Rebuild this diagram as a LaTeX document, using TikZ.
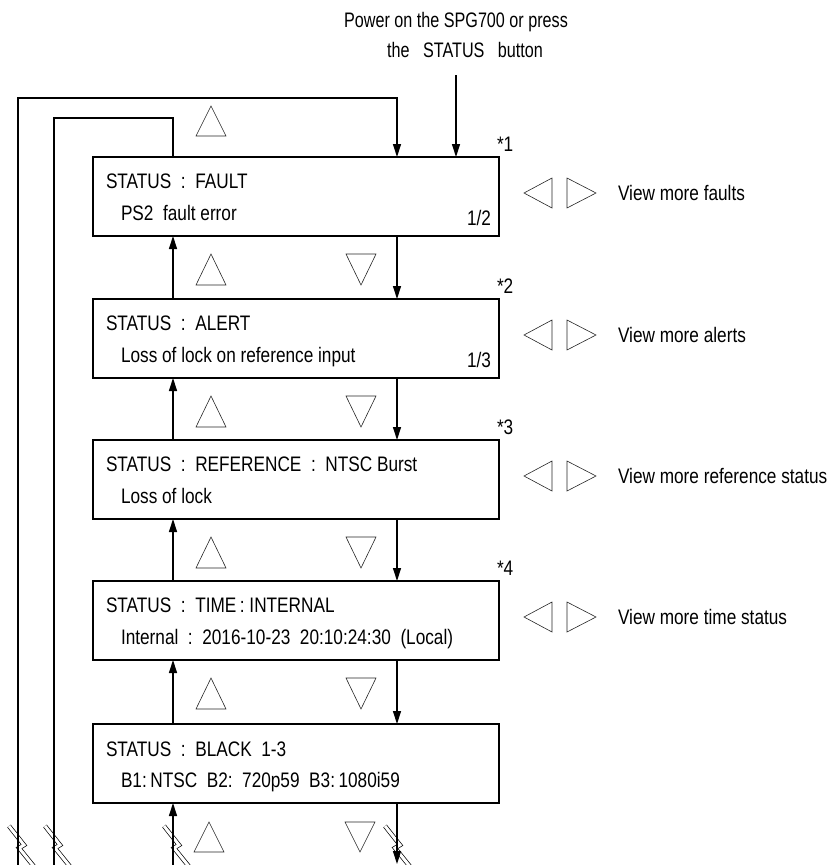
\documentclass[tikz,border=0pt]{standalone}
\usepackage{fontspec}
\setmainfont{Liberation Sans}[FakeStretch=0.82]
\newfontfamily\pwfont{Liberation Sans}[FakeStretch=0.77]
\usetikzlibrary{arrows.meta}
\begin{document}
\begin{tikzpicture}[x=1pt,y=-1pt,
  every node/.style={font=\fontsize{21}{25}\selectfont, inner sep=0pt, outer sep=0pt},
  box/.style={draw, line width=2.3pt, anchor=north west, minimum width=406pt, minimum height=79pt},
  txt/.style={anchor=base west},
  conn/.style={line width=1.3pt},
  arr/.style={conn, -{Triangle[length=13pt,width=8pt]}},
  tri/.style={draw=black!85, line width=0.6pt},
  brk/.style={draw=black, line width=0.7pt, double=white, double distance=3pt}]
\useasboundingbox (0,0) rectangle (830,865);

% boxes
\node[box] (b1) at (93,157) {};
\node[box] (b2) at (93,299) {};
\node[box] (b3) at (93,440) {};
\node[box] (b4) at (93,581) {};
\node[box] (b5) at (93,724) {};

% box texts
\node[txt] (t1a) at (106,188) {STATUS~~:~~FAULT};
\node[txt] (t1b) at (121,220) {PS2~~fault error};
\node[anchor=base east] (t1c) at (491,225) {1/2};
\node[txt] (t2a) at (106,330) {STATUS~~:~~ALERT};
\node[txt] (t2b) at (121,362) {Loss of lock on reference input};
\node[anchor=base east] (t2c) at (491,367) {1/3};
\node[txt] (t3a) at (106,471) {STATUS~~:~~REFERENCE~~:~~NTSC Burst};
\node[txt] (t3b) at (121,503) {Loss of lock};
\node[txt] (t4a) at (106,612) {STATUS~~:~~TIME\,:~INTERNAL};
\node[txt] (t4b) at (121,644) {Internal~~:~~2016-10-23~~20:10:24:30~~(Local)};
\node[txt] (t5a) at (106,756) {STATUS~~:~~BLACK~~1-3};
\node[txt] (t5b) at (121,787) {B1:\,NTSC~~B2:~~720p59~~B3:\,1080i59};

% star labels
\node[txt] (s1) at (497,151) {*1};
\node[txt] (s2) at (497,293) {*2};
\node[txt] (s3) at (497,434) {*3};
\node[txt] (s4) at (497,575) {*4};

% right side
\foreach \T/\lab [count=\i] in {157/faults, 299/alerts, 440/reference status, 581/time status}{
  \draw[tri] (552,\T+21) -- (552,\T+51) -- (524,\T+36) -- cycle;
  \draw[tri] (567,\T+21) -- (567,\T+51) -- (596,\T+36) -- cycle;
  \node[txt] (v\i) at (618,\T+43) {View more \lab};
}

% between-box triangles
\foreach \B in {236,378,519,660}{
  \draw[tri] (196,\B+49) -- (226,\B+49) -- (211,\B+18) -- cycle;
  \draw[tri] (346,\B+18) -- (376,\B+18) -- (361,\B+49) -- cycle;
}
% top and bottom triangles
\draw[tri] (196,136) -- (226,136) -- (211,106) -- cycle;
\draw[tri] (194,852) -- (224,852) -- (209,822) -- cycle;
\draw[tri] (345,822) -- (375,822) -- (360,852) -- cycle;

% coordinates
\coordinate (L) at (173,0);
\coordinate (R) at (397,0);
\coordinate (otop) at (397,98);
\coordinate (itop) at (173,118);
\coordinate (o1) at (18,870);
\coordinate (i1) at (54,870);
\coordinate (upin) at (173,870);
\coordinate (downout) at (397,864);
\coordinate (pw) at (456,75);

% break symbols
\foreach \x/\dx in {18/0, 54/0, 173/0, 397/-3}{
  \begin{scope}[shift={(\x+\dx,845)}]
    \draw[brk] (-9,-19) -- (6,0) -- (1,3) -- (18,24);
  \end{scope}
}

% connectors
\draw[arr] (b2.north -| L) -- (b1.south -| L);
\draw[arr] (b3.north -| L) -- (b2.south -| L);
\draw[arr] (b4.north -| L) -- (b3.south -| L);
\draw[arr] (b5.north -| L) -- (b4.south -| L);
\draw[arr] (b1.south -| R) -- (b2.north -| R);
\draw[arr] (b2.south -| R) -- (b3.north -| R);
\draw[arr] (b3.south -| R) -- (b4.north -| R);
\draw[arr] (b4.south -| R) -- (b5.north -| R);
\draw[arr] (upin) -- (b5.south -| L);
\draw[arr] (b5.south -| R) -- (downout);
\draw[arr] (o1) |- (otop) -- (b1.north -| otop);
\draw[conn] (i1) |- (itop) -- (b1.north -| itop);
\draw[arr] (pw) -- (b1.north -| pw);

% power text
\node[anchor=base, font=\pwfont\fontsize{21}{25}\selectfont] (p1) at (456,27) {Power on the SPG700 or press};
\node[anchor=base, font=\pwfont\fontsize{21}{25}\selectfont] (p2) at (465,57) {the~~~STATUS~~~button};
\end{tikzpicture}
\end{document}
